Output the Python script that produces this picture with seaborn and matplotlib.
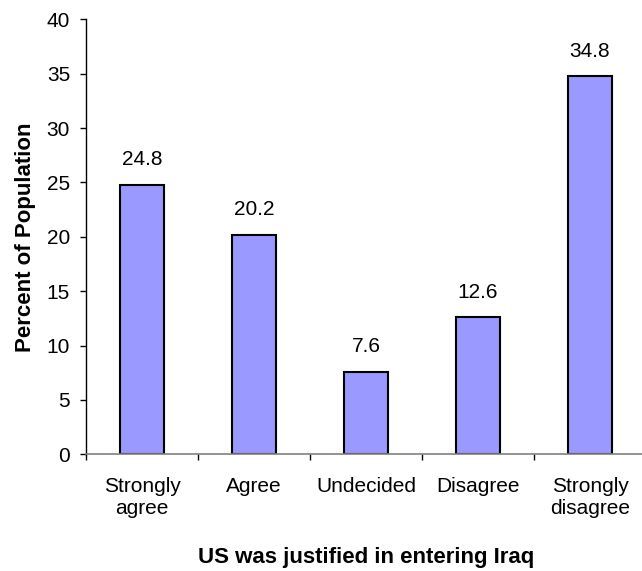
import matplotlib
matplotlib.use("Agg")
import matplotlib.pyplot as plt
import seaborn as sns
from matplotlib.ticker import FixedLocator

CATEGORIES = ["Strongly\nagree", "Agree", "Undecided", "Disagree", "Strongly\ndisagree"]
PERCENTS = [24.8, 20.2, 7.6, 12.6, 34.8]
Y_TICKS = [0, 5, 10, 15, 20, 25, 30, 35, 40]

BAR_COLOR = "#9999FF"


def main() -> None:
    sns.set_theme(style="white")
    plt.rcParams["font.family"] = ["Liberation Sans", "DejaVu Sans"]
    plt.rcParams["text.color"] = "black"
    plt.rcParams["axes.labelcolor"] = "black"
    plt.rcParams["xtick.color"] = "black"
    plt.rcParams["ytick.color"] = "black"

    fig = plt.figure(figsize=(6.42, 5.71), dpi=100)
    ax = fig.add_axes([86 / 642, 116.7 / 571, 560 / 642, 435 / 571])

    sns.barplot(
        x=CATEGORIES,
        y=PERCENTS,
        color=BAR_COLOR,
        saturation=1,
        edgecolor="black",
        linewidth=1.5,
        width=0.4,
        ax=ax,
    )
    ax.bar_label(ax.containers[0], fmt="%.1f", padding=11, fontsize=15, color="black")

    ax.set_xlim(-0.5, 4.5)
    ax.set_ylim(0, 40)
    ax.set_yticks(Y_TICKS)
    ax.tick_params(axis="y", direction="out", length=4.5, width=1, colors="black",
                   labelsize=15, pad=7, left=True)
    ax.tick_params(axis="x", which="major", length=0, labelsize=15, pad=16, labelcolor="black")
    ax.xaxis.set_minor_locator(FixedLocator([-0.5, 0.5, 1.5, 2.5, 3.5, 4.5]))
    ax.tick_params(axis="x", which="minor", direction="out", length=4.5, width=1,
                   color="black", bottom=True)
    for label in ax.get_xticklabels():
        label.set_linespacing(1.25)

    ax.set_xlabel("US was justified in entering Iraq", fontsize=16, fontweight="bold",
                  labelpad=20.5, color="black")
    ax.set_ylabel("Percent of Population", fontsize=16, fontweight="bold",
                  labelpad=8, color="black")

    for side in ["top", "right"]:
        ax.spines[side].set_visible(False)
    ax.spines["left"].set_color("black")
    ax.spines["left"].set_linewidth(1)
    ax.spines["bottom"].set_color("#808080")
    ax.spines["bottom"].set_linewidth(1.2)
    ax.grid(False)

    fig.savefig("out.png", dpi=100)
    plt.close(fig)


if __name__ == "__main__":
    main()
